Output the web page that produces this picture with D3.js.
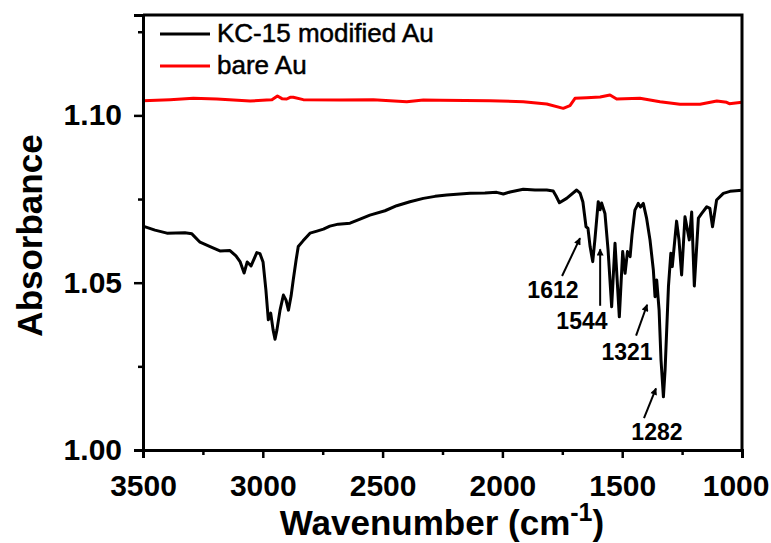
<!DOCTYPE html>
<html>
<head>
<meta charset="utf-8">
<script src="https://cdn.jsdelivr.net/npm/d3@7"></script>
<style>
  body { margin: 0; background: #fff; }
  text { font-family: "Liberation Sans", Arial, sans-serif; }
</style>
</head>
<body>
<div id="chart"></div>
<script>
// wavenumber (cm-1) / absorbance
var kcWave = [3500, 3450, 3400, 3325, 3296, 3262, 3220, 3179, 3137, 3112, 3095, 3078, 3065, 3049, 3025, 3012, 2999, 2987, 2977, 2967,
    2957, 2949, 2941, 2928, 2914, 2903, 2893, 2882, 2873, 2861, 2852, 2832, 2803, 2774, 2747, 2720, 2685, 2636, 2594, 2553,
    2490, 2441, 2386, 2330, 2281, 2232, 2177, 2135, 2073, 2024, 1996, 1968, 1913, 1864, 1815, 1788, 1776, 1762, 1732, 1690,
    1676, 1664, 1651, 1643, 1634, 1623, 1614, 1600, 1592, 1586, 1572, 1559, 1544, 1530, 1512, 1498, 1488, 1478, 1467, 1459,
    1447, 1433, 1424, 1412, 1398, 1384, 1370, 1363, 1356, 1346, 1338, 1328, 1321, 1307, 1297, 1291, 1273, 1263, 1252, 1238,
    1220, 1210, 1199, 1182, 1168, 1147, 1134, 1123, 1106, 1078, 1050, 1000];
var kcAbs = [1.0669, 1.0657, 1.0648, 1.0649, 1.0646, 1.0621, 1.0608, 1.0595, 1.0596, 1.0580, 1.0563, 1.0529, 1.0562, 1.0550, 1.0590, 1.0587, 1.0562, 1.0478, 1.0389, 1.0409,
    1.0359, 1.0331, 1.0359, 1.0418, 1.0463, 1.0448, 1.0418, 1.0460, 1.0508, 1.0568, 1.0608, 1.0625, 1.0648, 1.0654, 1.0660, 1.0669, 1.0675, 1.0678, 1.0690, 1.0702,
    1.0715, 1.0730, 1.0742, 1.0752, 1.0758, 1.0762, 1.0765, 1.0767, 1.0768, 1.0770, 1.0765, 1.0771, 1.0779, 1.0777, 1.0777, 1.0774, 1.0759, 1.0739, 1.0752, 1.0777,
    1.0768, 1.0741, 1.0667, 1.0663, 1.0608, 1.0563, 1.0628, 1.0742, 1.0718, 1.0738, 1.0707, 1.0598, 1.0428, 1.0618, 1.0398, 1.0593, 1.0528, 1.0593, 1.0578, 1.0643,
    1.0717, 1.0737, 1.0726, 1.0737, 1.0692, 1.0628, 1.0538, 1.0458, 1.0508, 1.0418, 1.0269, 1.0159, 1.0239, 1.0488, 1.0588, 1.0548, 1.0684, 1.0628, 1.0523, 1.0697,
    1.0628, 1.0711, 1.0490, 1.0693, 1.0707, 1.0727, 1.0722, 1.0667, 1.0747, 1.0767, 1.0773, 1.0776];

var bareWave = [3500, 3387, 3290, 3192, 3053, 2984, 2962, 2939, 2920, 2900, 2886, 2873, 2831, 2678, 2539, 2399, 2330, 2260,
    2052, 1913, 1815, 1746, 1718, 1697, 1648, 1592, 1551, 1523, 1426, 1342, 1259, 1175, 1105, 1064, 1053, 1000];
var bareAbs = [1.1044, 1.1047, 1.1051, 1.1049, 1.1043, 1.1046, 1.1047, 1.1058, 1.1050, 1.1049, 1.1054, 1.1054, 1.1047, 1.1046, 1.1047, 1.1041, 1.1046, 1.1045,
    1.1044, 1.1041, 1.1034, 1.1021, 1.1029, 1.1051, 1.1053, 1.1055, 1.1061, 1.1049, 1.1051, 1.1041, 1.1033, 1.1033, 1.1043, 1.1039, 1.1035, 1.1039];

var seriesNames = ["KC-15 modified Au", "bare Au"];
var seriesColors = ["#000000", "#ff0000"];

var xTicks = [3500, 3000, 2500, 2000, 1500, 1000];
var xMinor = [3250, 2750, 2250, 1750, 1250];
var yTicks = [1.00, 1.05, 1.10];
var yMinor = [1.025, 1.075, 1.125];

// peak labels: where the text sits and where the arrow goes from/to (data units)
var peakLabels = ["1612", "1544", "1321", "1282"];
var peakTextW = [1789, 1668, 1480, 1355];
var peakTextA = [1.0454, 1.0362, 1.0270, 1.0030];
var arrowFromW = [1751, 1592, 1442, 1409];
var arrowFromA = [1.0520, 1.0431, 1.0342, 1.0095];
var arrowToW = [1676, 1592, 1396, 1359];
var arrowToA = [1.0633, 1.0600, 1.0434, 1.0184];

var width = 771, height = 543;
var margin = { top: 15, left: 143, right: 29, bottom: 93 };

var svg = d3.select("#chart")
    .append("svg")
    .attr("width", width)
    .attr("height", height);

var x = d3.scaleLinear()
    .domain([3500, 1000])
    .range([margin.left, width - margin.right]);

var y = d3.scaleLinear()
    .domain([1.00, 1.13])
    .range([height - margin.bottom, margin.top]);

svg.append("defs").append("marker")
    .attr("id", "head")
    .attr("viewBox", "0 0 10 10")
    .attr("refX", 9)
    .attr("refY", 5)
    .attr("markerWidth", 9)
    .attr("markerHeight", 7)
    .attr("markerUnits", "userSpaceOnUse")
    .attr("orient", "auto")
    .append("path")
    .attr("d", "M0,0 L10,5 L0,10 z")
    .attr("fill", "#000");

var line = d3.line()
    .x(function(d) { return x(d[0]); })
    .y(function(d) { return y(d[1]); });

var curves = [d3.zip(kcWave, kcAbs), d3.zip(bareWave, bareAbs)];

svg.selectAll(".spectrum")
    .data(curves)
    .enter().append("path")
    .attr("class", "spectrum")
    .attr("d", line)
    .attr("fill", "none")
    .attr("stroke", function(d, i) { return seriesColors[i]; })
    .attr("stroke-width", 3)
    .attr("stroke-linejoin", "round");

// axes, major + minor ticks
var xAxis = svg.append("g")
    .attr("transform", "translate(0," + y(1.00) + ")")
    .call(d3.axisBottom(x).tickValues(xTicks).tickFormat(d3.format("d")).tickSize(8).tickPadding(17));
svg.append("g")
    .attr("transform", "translate(0," + y(1.00) + ")")
    .call(d3.axisBottom(x).tickValues(xMinor).tickFormat("").tickSize(5))
    .select(".domain").remove();

var yAxis = svg.append("g")
    .attr("transform", "translate(" + x(3500) + ",0)")
    .call(d3.axisLeft(y).tickValues(yTicks).tickFormat(d3.format(".2f")).tickSize(9).tickPadding(12));
svg.append("g")
    .attr("transform", "translate(" + x(3500) + ",0)")
    .call(d3.axisLeft(y).tickValues(yMinor).tickFormat("").tickSize(5))
    .select(".domain").remove();

svg.selectAll(".domain").attr("stroke-width", 3);
svg.selectAll(".tick line").attr("stroke-width", 2.5);
svg.selectAll(".tick text")
    .style("font-size", "30px")
    .style("font-weight", "bold")
    .attr("fill", "#000");

// last x label sits right on the window edge, keep it inside
xAxis.selectAll(".tick text")
    .filter(function(d) { return d === 1000; })
    .attr("text-anchor", "end")
    .attr("x", width - 2 - x(1000));

// top and right border
svg.append("path")
    .attr("d", "M" + x(3500) + "," + y(1.13) + "H" + x(1000) + "V" + y(1.00))
    .attr("fill", "none")
    .attr("stroke", "#000")
    .attr("stroke-width", 3);

// axis titles
svg.append("text")
    .attr("transform", "translate(42," + ((y(1.00) + y(1.13)) / 2 + 3) + ") rotate(-90)")
    .attr("text-anchor", "middle")
    .style("font-size", "35px")
    .style("font-weight", "bold")
    .text("Absorbance");

var xTitle = svg.append("text")
    .attr("x", 442)
    .attr("y", 535)
    .attr("text-anchor", "middle")
    .style("font-size", "35px")
    .style("font-weight", "bold");
xTitle.append("tspan").text("Wavenumber (cm");
xTitle.append("tspan").attr("dy", -14).style("font-size", "25px").text("-1");
xTitle.append("tspan").attr("dy", 14).text(")");

// legend
var legend = svg.selectAll(".legend")
    .data(seriesNames)
    .enter().append("g")
    .attr("class", "legend")
    .attr("transform", function(d, i) { return "translate(160," + (34 + i * 32) + ")"; });
legend.append("line")
    .attr("x1", 0).attr("x2", 50)
    .attr("stroke", function(d, i) { return seriesColors[i]; })
    .attr("stroke-width", 3);
legend.append("text")
    .attr("x", 57)
    .attr("y", 8)
    .style("font-size", "26px")
    .attr("stroke", "#000")
    .attr("stroke-width", 0.5)
    .text(function(d) { return d; });

// peak annotations
peakLabels.forEach(function(lab, i) {
    svg.append("line")
        .attr("x1", x(arrowFromW[i])).attr("y1", y(arrowFromA[i]))
        .attr("x2", x(arrowToW[i])).attr("y2", y(arrowToA[i]))
        .attr("stroke", "#000")
        .attr("stroke-width", 2)
        .attr("marker-end", "url(#head)");
    svg.append("text")
        .attr("x", x(peakTextW[i]))
        .attr("y", y(peakTextA[i]))
        .attr("text-anchor", "middle")
        .style("font-size", "23px")
        .style("font-weight", "bold")
        .text(lab);
});
</script>
</body>
</html>
